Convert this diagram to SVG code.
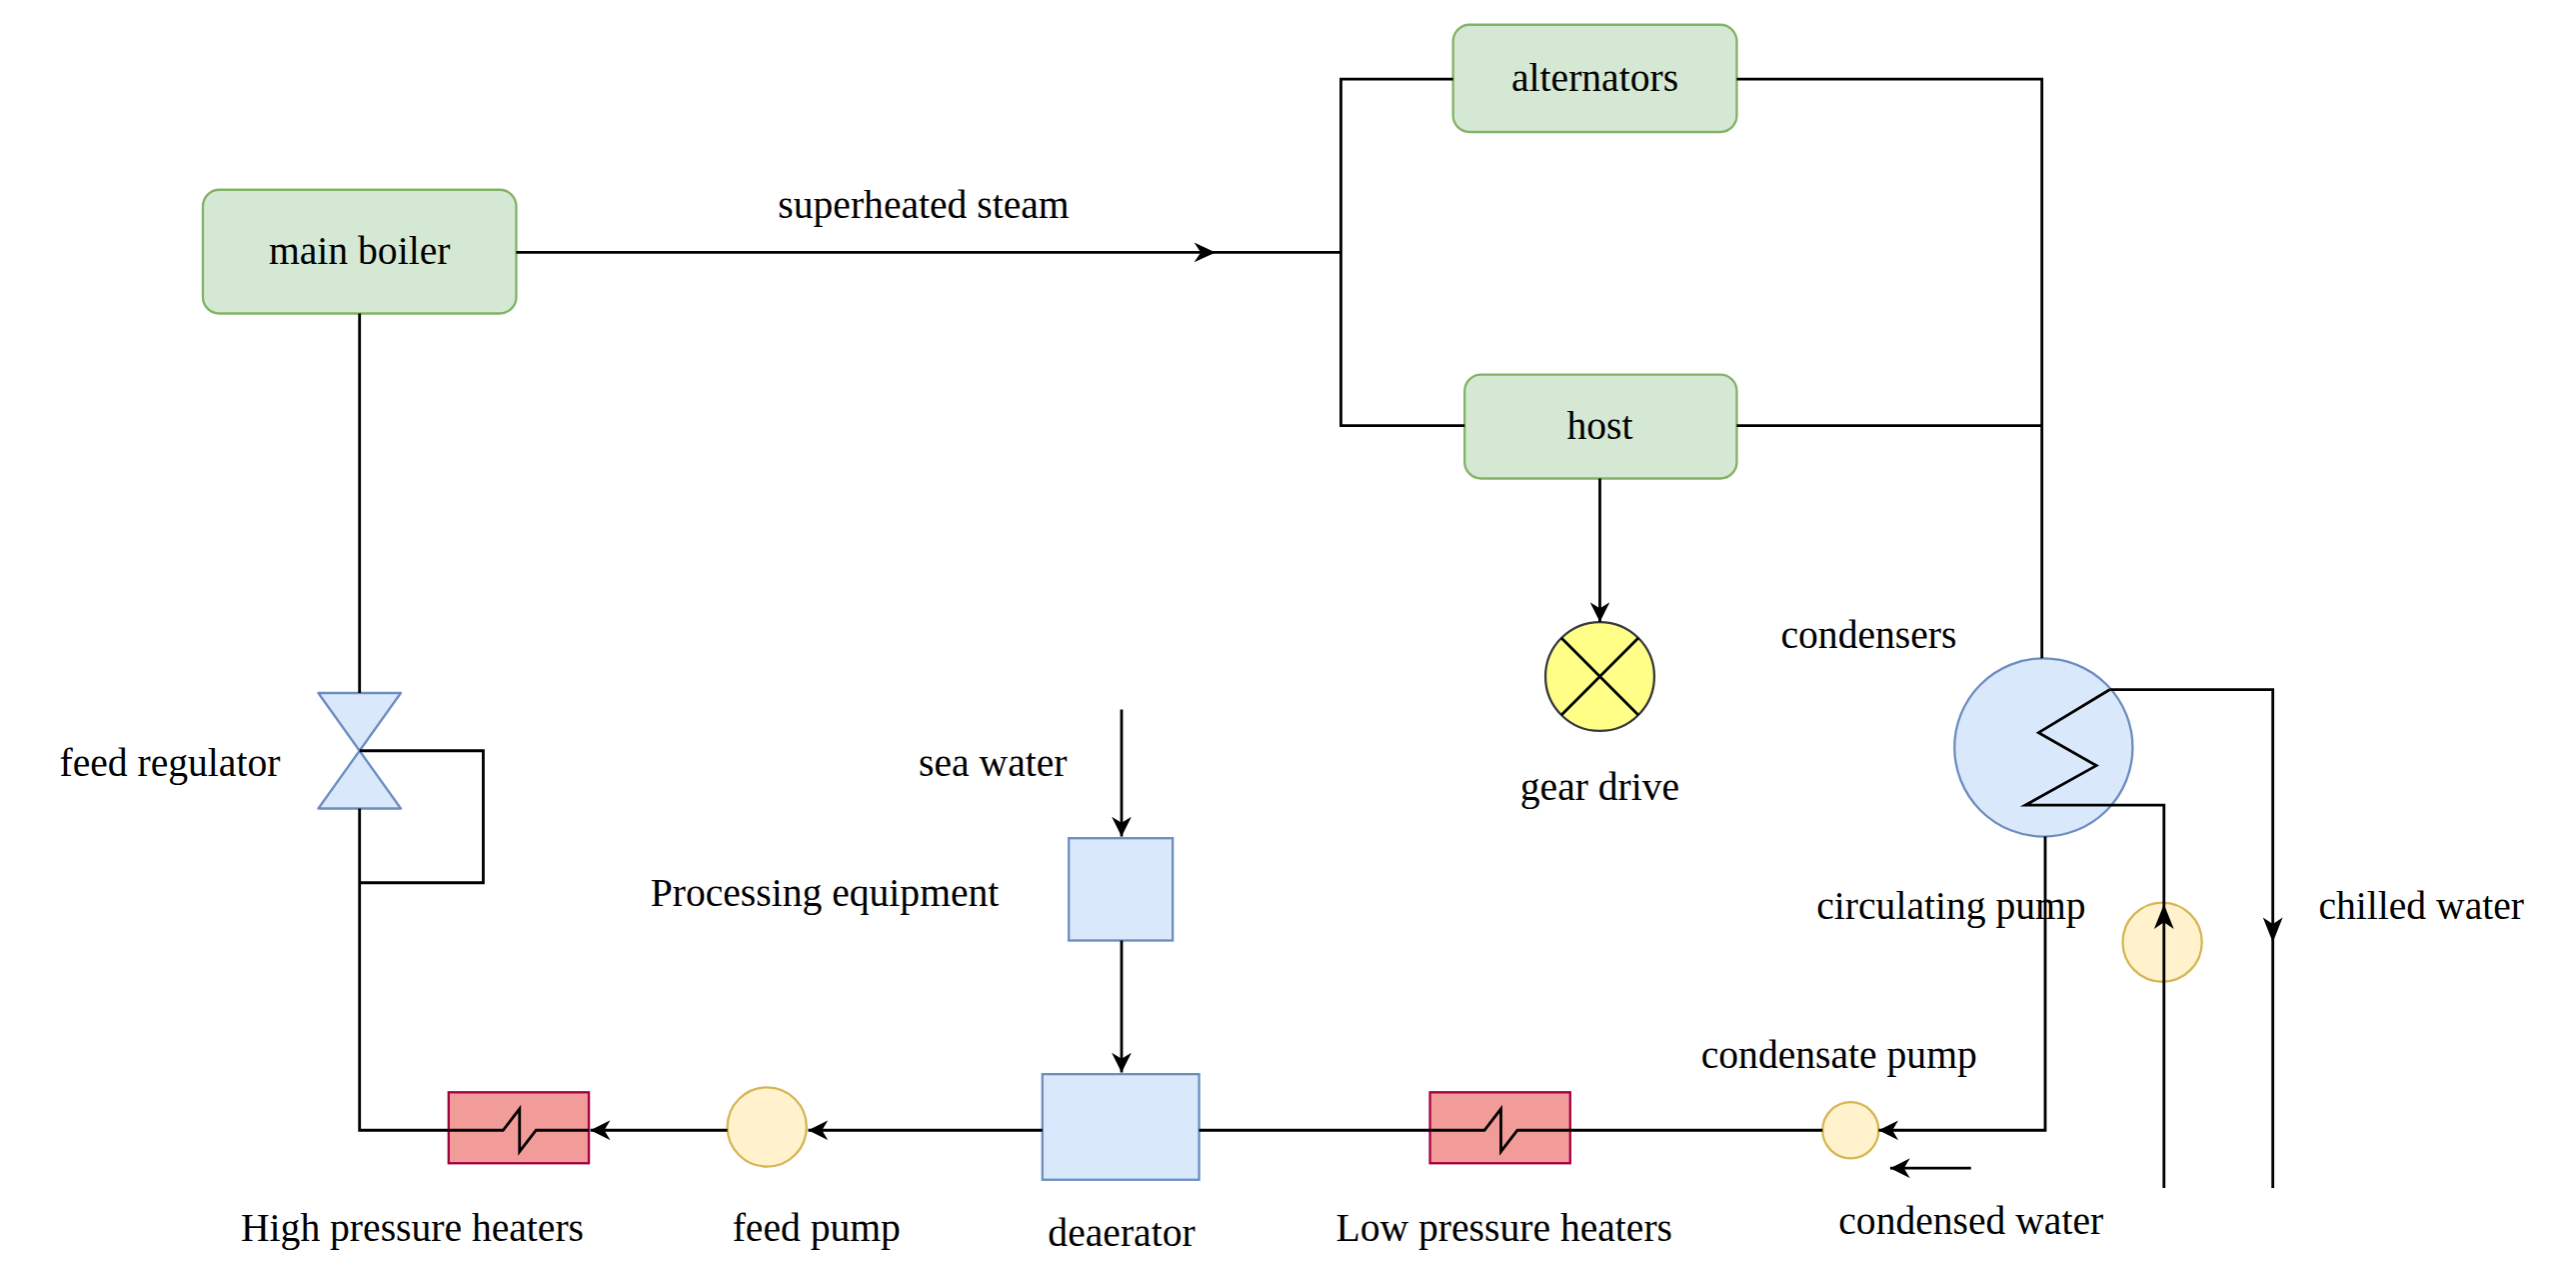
<svg xmlns="http://www.w3.org/2000/svg" width="2577" height="1278" viewBox="0 0 2577 1278">
<style>
text{font-family:"Liberation Serif","Times New Roman",serif;font-size:24px;fill:#000;text-anchor:middle}
.ln{fill:none;stroke:#000;stroke-width:1.7}
.g{fill:#d5e8d4;stroke:#82b366;stroke-width:1.4}
.b{fill:#dae8fc;stroke:#6c8ebf;stroke-width:1.4}
.y{fill:#fff2cc;stroke:#d6b656;stroke-width:1.4}
.r{fill:#f19c99;stroke:#a50040;stroke-width:1.4}
</style>
<defs>
<marker id="a" viewBox="0 0 10 10" refX="10" refY="5" markerWidth="12" markerHeight="12" orient="auto" markerUnits="userSpaceOnUse"><path d="M0,0 L10,5 L0,10 L3,5 z" fill="#000"/></marker>
</defs>
<rect width="2577" height="1278" fill="#fff"/>
<g transform="scale(1.65)">
<g id="main-boiler"><rect class="g" x="123" y="115" width="190" height="75" rx="10"/><text x="218" y="160" font-size="21">main boiler</text></g>
<text x="560" y="132">superheated steam</text>
<g id="alternators"><rect class="g" x="881" y="15" width="172" height="65" rx="10"/><text x="967" y="55" font-size="21">alternators</text></g>
<g id="host"><rect class="g" x="888" y="227" width="165" height="63" rx="10"/><text x="970" y="266" font-size="21">host</text></g>
<g id="gear-drive"><circle cx="970" cy="410" r="33" fill="#ffff88" stroke="#36393d" stroke-width="1.4"/><path class="ln" d="M946.7,386.7 L993.3,433.3 M993.3,386.7 L946.7,433.3" stroke-width="1.4"/><text x="970" y="485" font-size="21">gear drive</text></g>
<g id="condensers"><circle class="b" cx="1239" cy="453" r="54"/><text x="1133" y="393">condensers</text></g>
<g id="circulating-pump"><circle class="y" cx="1311" cy="571" r="24"/><text x="1183" y="557">circulating pump</text></g>
<text x="1468" y="557">chilled water</text>
<g id="condensate-pump"><circle class="y" cx="1122" cy="685" r="17"/><text x="1115" y="647">condensate pump</text></g>
<text x="1195" y="748">condensed water</text>
<g id="low-pressure-heaters"><rect class="r" x="867" y="662" width="85" height="43"/><path class="ln" d="M867,685 H900 L910,672 V698 L920,685 H952"/><text x="912" y="752">Low pressure heaters</text></g>
<g id="deaerator"><rect class="b" x="632" y="651" width="95" height="64"/><text x="680" y="755">deaerator</text></g>
<g id="processing-equipment"><rect class="b" x="648" y="508" width="63" height="62"/><text x="500" y="549">Processing equipment</text></g>
<text x="602" y="470">sea water</text>
<g id="feed-pump"><circle class="y" cx="465" cy="683" r="24"/><text x="495" y="752">feed pump</text></g>
<g id="high-pressure-heaters"><rect class="r" x="272" y="662" width="85" height="43"/><path class="ln" d="M272,685 H305 L315,672 V698 L325,685 H357"/><text x="250" y="752">High pressure heaters</text></g>
<g id="feed-regulator"><path class="b" d="M193,420 H243 L218,455 Z M218,455 L243,490 H193 Z" stroke-linejoin="round"/><text x="103" y="470">feed regulator</text></g>
<g id="connectors">
<path class="ln" d="M313,153 H813"/>
<path d="M724,147 L737,153 L724,159 L728,153 z" fill="#000"/>
<path class="ln" d="M881,48 H813 V258 H888"/>
<path class="ln" d="M1053,48 H1238 V399"/>
<path class="ln" d="M1053,258 H1238"/>
<path class="ln" d="M970,290 V377" marker-end="url(#a)"/>
<path class="ln" d="M1240,507 V685 H1139" marker-end="url(#a)"/>
<path class="ln" d="M1195,708 H1146" marker-end="url(#a)"/>
<path class="ln" d="M1279,418 H1378 V720"/>
<path d="M1372,556 L1378,571 L1384,556 L1378,560 z" fill="#000"/>
<path class="ln" d="M1279,418 L1236,444 L1271,464 L1228,488 H1312 V720"/>
<path d="M1306,563 L1312,548 L1318,563 L1312,559 z" fill="#000"/>
<path class="ln" d="M1105,685 H952"/>
<path class="ln" d="M867,685 H727"/>
<path class="ln" d="M680,430 V507" marker-end="url(#a)"/>
<path class="ln" d="M680,570 V650" marker-end="url(#a)"/>
<path class="ln" d="M632,685 H490" marker-end="url(#a)"/>
<path class="ln" d="M441,685 H358" marker-end="url(#a)"/>
<path class="ln" d="M272,685 H218 V490"/>
<path class="ln" d="M218,190 V420"/>
<path class="ln" d="M218,455 H293 V535 H218"/>
</g>
</g>
</svg>
